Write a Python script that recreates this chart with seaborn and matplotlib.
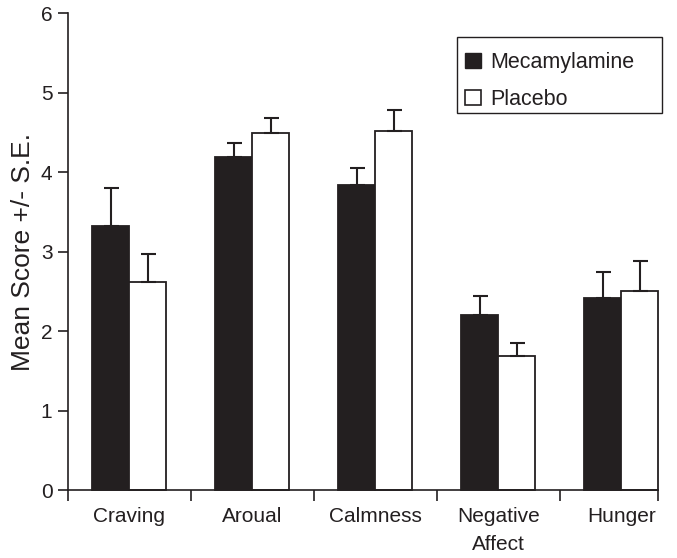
import matplotlib
matplotlib.use("Agg")
import matplotlib.pyplot as plt
from matplotlib.patches import Patch, Rectangle
import numpy as np
import pandas as pd
import seaborn as sns

# Mean ratings per measure and condition, with standard errors
categories = ["Craving", "Aroual", "Calmness", "Negative\nAffect", "Hunger"]
conditions = ["Mecamylamine", "Placebo"]
mecamylamine_mean = [3.33, 4.19, 3.84, 2.21, 2.42]
mecamylamine_se = [0.47, 0.18, 0.22, 0.24, 0.33]
placebo_mean = [2.62, 4.49, 4.52, 1.69, 2.51]
placebo_se = [0.36, 0.20, 0.27, 0.17, 0.38]
y_ticks = [0, 1, 2, 3, 4, 5, 6]

dark = "#231f20"
W, H = 677, 558

df = pd.DataFrame({
    "measure": categories * 2,
    "condition": [conditions[0]] * len(categories) + [conditions[1]] * len(categories),
    "mean": mecamylamine_mean + placebo_mean,
    "se": mecamylamine_se + placebo_se,
})

sns.set_theme(style="ticks")
plt.rcParams["font.family"] = ["Liberation Sans", "DejaVu Sans"]

fig = plt.figure(figsize=(W / 100, H / 100), dpi=100)
ax = fig.add_axes([0.1, 0.121, 0.872, 0.855])

sns.barplot(
    data=df, x="measure", y="mean", hue="condition",
    order=categories, hue_order=conditions,
    palette={conditions[0]: dark, conditions[1]: "white"},
    width=0.6, gap=0, errorbar=None, ax=ax, legend=False,
    edgecolor=dark, linewidth=1.3, saturation=1,
)
for p in ax.patches:
    p.set_clip_on(False)

# upward-only error bars placed on each bar's centre
for cond, container in zip(conditions, ax.containers):
    sub = df[df["condition"] == cond].set_index("measure").loc[categories]
    xs = [p.get_x() + p.get_width() / 2 for p in container.patches]
    means = sub["mean"].to_numpy()
    ses = sub["se"].to_numpy()
    ax.errorbar(xs, means, yerr=[np.zeros_like(ses), ses], fmt="none",
                ecolor=dark, elinewidth=1.5, capsize=5.4, capthick=1.5,
                zorder=1)

x_right = 4.3
ax.set_xlim(-0.5, x_right)
ax.set_ylim(0, 6)
ax.set_yticks(y_ticks)
ax.set_yticklabels([str(t) for t in y_ticks], fontsize=15, color=dark)

ax.set_xticks(range(len(categories)))
ax.set_xticklabels(categories, fontsize=15, color=dark, linespacing=1.6)
ax.tick_params(axis="x", which="major", length=0, pad=12)
ax.set_xticks([-0.5, 0.5, 1.5, 2.5, 3.5, x_right], minor=True)
ax.tick_params(axis="x", which="minor", length=8, width=1.2, color=dark, direction="out")
ax.tick_params(axis="y", length=7, width=1.2, color=dark, direction="out", pad=4)

ax.set_xlabel("")
ax.set_ylabel("Mean Score +/- S.E.", fontsize=19, color=dark, labelpad=4)

sns.despine(ax=ax)
for side in ("left", "bottom"):
    ax.spines[side].set_color(dark)
    ax.spines[side].set_linewidth(1.2)

# legend box
frame = Rectangle((457 / W, 1 - 112.5 / H), 205 / W, 75.5 / H,
                  transform=fig.transFigure, facecolor="white",
                  edgecolor=dark, linewidth=1.0, zorder=5)
fig.add_artist(frame)

handles = [
    Patch(facecolor=dark, edgecolor=dark, label=conditions[0]),
    Patch(facecolor="white", edgecolor=dark, linewidth=1.2, label=conditions[1]),
]
leg = fig.legend(
    handles=handles, loc="upper left",
    bbox_to_anchor=(465 / W, 1 - 52 / H), bbox_transform=fig.transFigure,
    fontsize=15.5, frameon=False, borderpad=0,
    handlelength=0.75, handleheight=0.75, handletextpad=0.4,
    labelspacing=0.74, borderaxespad=0,
)
leg.set_zorder(6)
for t in leg.get_texts():
    t.set_color(dark)

fig.savefig("out.png", dpi=100)
